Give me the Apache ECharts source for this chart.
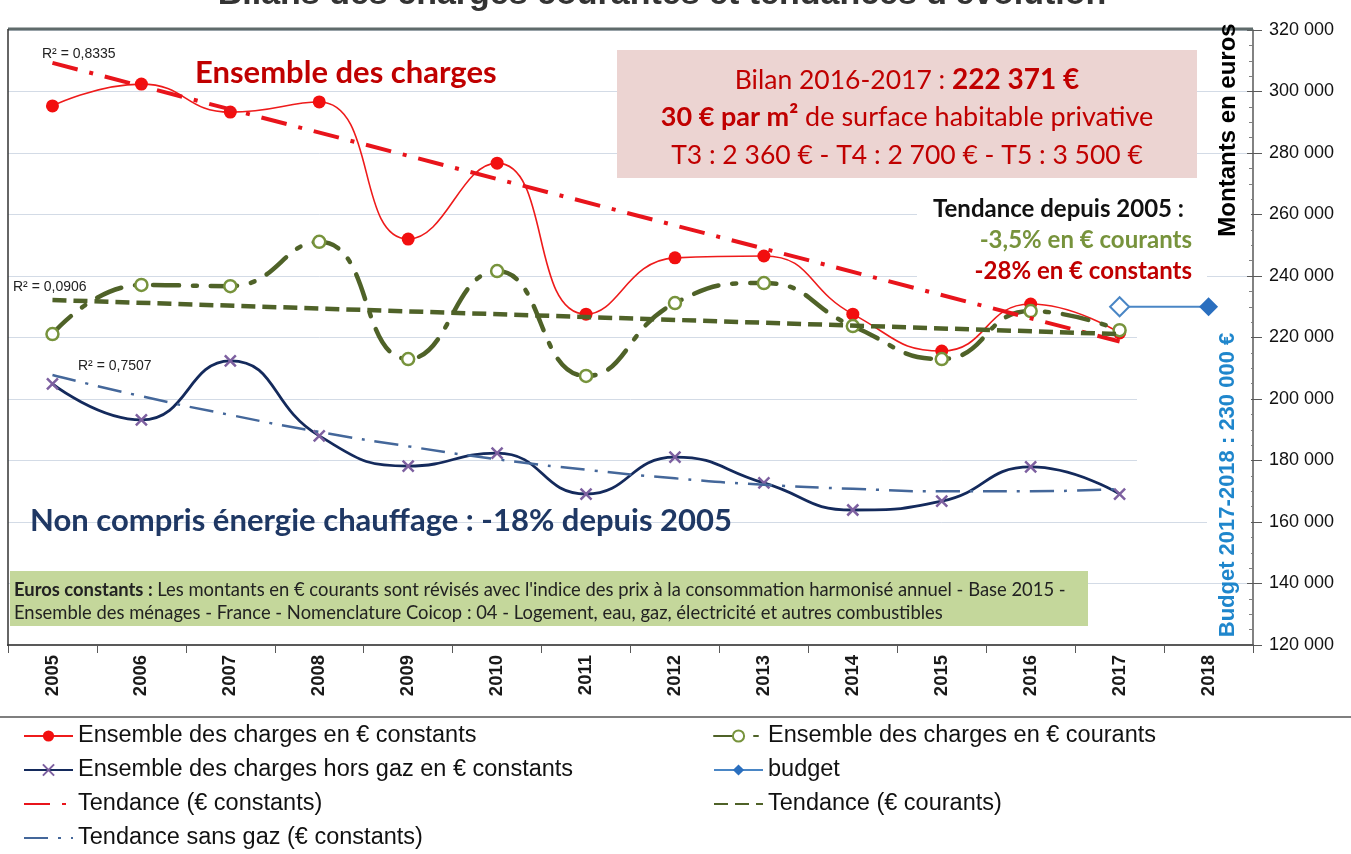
<!DOCTYPE html>
<html><head><meta charset="utf-8">
<script src="https://cdn.jsdelivr.net/npm/echarts@6/dist/echarts.min.js"></script>
<style>html,body{margin:0;padding:0;background:#fff}#c{width:1351px;height:854px}</style>
</head><body><div id="c"></div>
<script>
// ---- data ----
const years = ['2005','2006','2007','2008','2009','2010','2011','2012','2013','2014','2015','2016','2017','2018'];
const constants = [295300, 302400, 293300, 296600, 252000, 276700, 227600, 245900, 246500, 227600, 215600, 230900, 221500, null];
const courants = [221100, 237100, 236700, 251100, 213000, 241600, 207500, 231200, 237700, 223700, 213000, 228600, 222371, null];
const horsGaz = [204900, 193200, 212400, 188000, 178200, 182400, 169100, 181100, 172700, 163900, 166800, 177900, 169100, null];
const budget = [null, null, null, null, null, null, null, null, null, null, null, null, 230000, 230000];
const trendConstants = [309300, null, null, null, null, null, null, null, null, null, null, null, 218700, null];
const trendCourants = [232200, null, null, null, null, null, null, null, null, null, null, null, 221100, null];
const trendSansGaz = [207800, 200900, 194800, 189300, 184600, 180400, 177000, 174200, 172100, 170800, 170000, 170000, 170800, null];
const yMin = 120000, yMax = 320000, yStep = 20000;

const names = {
  c: 'Ensemble des charges en € constants',
  k: 'Ensemble des charges en € courants',
  h: 'Ensemble des charges hors gaz en € constants',
  b: 'budget',
  tc: 'Tendance (€ constants)',
  tk: 'Tendance (€ courants)',
  th: 'Tendance sans gaz (€ constants)'
};

const fmt = v => String(v).replace(/\B(?=(\d{3})+(?!\d))/g, ' ');
const ARIAL = 'Liberation Sans, Arial, sans-serif';
const CAL = 'Lato, Carlito, sans-serif';

function txt(text, x, y, font, fill, align, valign, extra) {
  return Object.assign({
    type: 'text', x: x, y: y, z: 20,
    style: { text: text, font: font, fill: fill, align: align || 'left', verticalAlign: valign || 'middle',
             textAlign: align || 'left', textVerticalAlign: valign || 'middle' }
  }, extra || {});
}

const budgetData = budget.map((v, i) => (i === 12 && v != null)
  ? { value: v, itemStyle: { color: '#ffffff', borderColor: '#4a86c5', borderWidth: 2 } } : v);

// legend placement: [name, left, rowCenterY, hideSymbol]
const legendSlots = [
  [names.c, 23, 737, false], [names.k, 713, 737, false],
  [names.h, 23, 771, false], [names.b, 713, 771, false],
  [names.tc, 23, 805, true], [names.tk, 713, 805, true],
  [names.th, 23, 839, true]
];
const legends = legendSlots.map(s => ({
  left: s[1], top: s[2] - 13, padding: 0, itemWidth: 49, itemHeight: 14, orient: 'horizontal',
  textStyle: { fontFamily: ARIAL, fontSize: 23.5, color: '#111' },
  data: [s[3] ? { name: s[0], itemStyle: { opacity: 0 } } : { name: s[0] }]
}));

const chart = echarts.init(document.getElementById('c'), null, { renderer: 'canvas' });
chart.setOption({
  animation: false,
  backgroundColor: '#ffffff',
  grid: { left: 8, right: 98, top: 30, bottom: 209, containLabel: false },
  xAxis: {
    type: 'category', data: years, boundaryGap: true,
    axisLine: { lineStyle: { color: '#595959', width: 2 } },
    axisTick: { show: true, interval: 0, length: 8, lineStyle: { color: '#595959', width: 1 } },
    axisLabel: { rotate: 90, interval: 0, margin: 10, color: '#1a1a1a', fontSize: 18.5, fontWeight: 'bold', fontFamily: ARIAL },
    splitLine: { show: false }
  },
  yAxis: [{
    type: 'value', position: 'right', min: yMin, max: yMax, interval: yStep,
    axisLine: { show: true, lineStyle: { color: '#595959', width: 1.5 } },
    axisTick: { show: true, length: 9, lineStyle: { color: '#595959' } },
    minorTick: { show: false },
    axisLabel: { margin: 16, color: '#111', fontSize: 18, fontFamily: ARIAL, formatter: fmt },
    splitLine: { show: true, lineStyle: { color: '#d3dbe6', width: 1 } }
  }, {
    type: 'value', position: 'right', min: yMin, max: yMax, interval: yStep,
    axisLine: { show: false },
    axisTick: { show: true, inside: true, length: 6, lineStyle: { color: '#595959' } },
    minorTick: { show: true, splitNumber: 4, length: 4, lineStyle: { color: '#7f7f7f' } },
    axisLabel: { show: false }, splitLine: { show: false }
  }],
  legend: legends,
  series: [
    {
      name: names.c, type: 'line', data: constants, smooth: 0.5, z: 3,
      symbol: 'circle', symbolSize: 13,
      lineStyle: { color: '#ee1b1b', width: 1.6 },
      itemStyle: { color: '#f20f0f' }
    },
    {
      name: names.k, type: 'line', data: courants, smooth: 0.5, z: 4,
      symbol: 'circle', symbolSize: 12,
      lineStyle: { color: '#4f6228', width: 4.5, type: [26, 14, 4, 14], cap: 'round' },
      itemStyle: { color: '#ffffff', borderColor: '#77933c', borderWidth: 2.5 }
    },
    {
      name: names.h, type: 'line', data: horsGaz, smooth: 0.5, z: 3,
      symbol: 'path://M0,0L10,10M10,0L0,10', symbolSize: 11,
      lineStyle: { color: '#142a5c', width: 2.8 },
      itemStyle: { color: 'rgba(0,0,0,0)', borderColor: '#7d60a0', borderWidth: 2.5 }
    },
    {
      name: names.b, type: 'line', data: budgetData, z: 4,
      symbol: 'diamond', symbolSize: 19,
      lineStyle: { color: '#4a86c5', width: 2 },
      itemStyle: { color: '#2a6fbf' }
    },
    {
      name: names.tc, type: 'line', data: trendConstants, connectNulls: true, z: 5,
      symbol: 'none',
      lineStyle: { color: '#e8141b', width: 4, type: [26, 12, 4, 12] },
      itemStyle: { color: '#e8141b' }
    },
    {
      name: names.tk, type: 'line', data: trendCourants, connectNulls: true, z: 5,
      symbol: 'none',
      lineStyle: { color: '#4f6228', width: 4.5, type: [14, 7] },
      itemStyle: { color: '#4f6228' }
    },
    {
      name: names.th, type: 'line', data: trendSansGaz, smooth: 0.6, z: 5,
      symbol: 'none',
      lineStyle: { color: '#44679a', width: 2.5, type: [24, 10, 3, 10] },
      itemStyle: { color: '#44679a' }
    }
  ],
  graphic: { elements: [
    // clipped title at top
    txt("Bilans des charges courantes et tendances d'évolution", 662, 12, 'bold 34px ' + ARIAL, '#333', 'center', 'bottom'),
    // plot borders
    { type: 'line', z: 6, shape: { x1: 8, y1: 29, x2: 1253, y2: 29 }, style: { stroke: '#5f6b6b', lineWidth: 3 } },
    { type: 'line', z: 6, shape: { x1: 8, y1: 29, x2: 8, y2: 646 }, style: { stroke: '#333', lineWidth: 1.5 } },
    { type: 'line', z: 6, shape: { x1: 0, y1: 717, x2: 1351, y2: 717 }, style: { stroke: '#7f7f7f', lineWidth: 2 } },
    // white text-box backgrounds hiding grid lines
    { type: 'rect', z: 1, shape: { x: 917, y: 193, width: 290, height: 94 }, style: { fill: '#ffffff' } },
    { type: 'rect', z: 1, shape: { x: 1137, y: 318, width: 114, height: 185 }, style: { fill: '#ffffff' } },
    { type: 'rect', z: 1, shape: { x: 1207, y: 500, width: 44, height: 60 }, style: { fill: '#ffffff' } },
    { type: 'rect', z: 1, shape: { x: 1205, y: 190, width: 46, height: 60 }, style: { fill: '#ffffff' } },
    // pink box
    { type: 'rect', z: 1, shape: { x: 617, y: 50, width: 580, height: 128 }, style: { fill: '#ecd4d2' } },
    {
      type: 'text', x: 907, y: 80, z: 20,
      style: { text: '{r|Bilan 2016-2017 : }{b|222 371 €}', align: 'center', verticalAlign: 'middle', textAlign: 'center', textVerticalAlign: 'middle',
        rich: { r: { font: '26.5px ' + CAL, fill: '#c00000', color: '#c00000' }, b: { font: 'bold 28px ' + CAL, fill: '#c00000', color: '#c00000' } } }
    },
    {
      type: 'text', x: 907, y: 117, z: 20,
      style: { text: '{b|30 € par m²}{r| de surface habitable privative}', align: 'center', verticalAlign: 'middle', textAlign: 'center', textVerticalAlign: 'middle',
        rich: { r: { font: '27px ' + CAL, fill: '#c00000', color: '#c00000' }, b: { font: 'bold 27px ' + CAL, fill: '#c00000', color: '#c00000' } } }
    },
    txt('T3 : 2 360 € - T4 : 2 700 € - T5 : 3 500 €', 907, 155, '26.5px ' + CAL, '#c00000', 'center', 'middle'),
    // trend summary
    txt('Tendance depuis 2005 :', 1184, 209, 'bold 24px ' + CAL, '#111', 'right', 'middle'),
    txt('-3,5% en € courants', 1192, 240, 'bold 24px ' + CAL, '#77933c', 'right', 'middle'),
    txt('-28% en € constants', 1192, 271, 'bold 24px ' + CAL, '#c00000', 'right', 'middle'),
    // series captions
    txt('Ensemble des charges', 195, 73, 'bold 31px ' + CAL, '#c00000', 'left', 'middle'),
    txt('Non compris énergie chauffage : -18% depuis 2005', 30, 521, 'bold 31px ' + CAL, '#1f3864', 'left', 'middle'),
    // R² labels
    txt('R² = 0,8335', 42, 54, '14px ' + ARIAL, '#222', 'left', 'middle'),
    txt('R² = 0,0906', 13, 287, '14px ' + ARIAL, '#222', 'left', 'middle'),
    txt('R² = 0,7507', 78, 366, '14px ' + ARIAL, '#222', 'left', 'middle'),
    // green note box
    { type: 'rect', z: 1, shape: { x: 10, y: 571, width: 1078, height: 55 }, style: { fill: '#c4d79b' } },
    {
      type: 'text', x: 14, y: 590, z: 20,
      style: { text: "{b|Euros constants :}{r| Les montants en € courants sont révisés avec l'indice des prix à la consommation harmonisé annuel - Base 2015 -}",
        align: 'left', verticalAlign: 'middle', textAlign: 'left', textVerticalAlign: 'middle',
        rich: { r: { font: '18.4px ' + CAL, fill: '#222', color: '#222' }, b: { font: 'bold 18.4px ' + CAL, fill: '#222', color: '#222' } } }
    },
    txt('Ensemble des ménages - France - Nomenclature Coicop : 04 - Logement, eau, gaz, électricité et autres combustibles', 14, 613, '18.4px ' + CAL, '#222', 'left', 'middle'),
    // rotated axis texts
    txt('Montants en euros', 1228, 130, 'bold 24px ' + ARIAL, '#000', 'center', 'middle', { rotation: Math.PI / 2 }),
    txt('Budget 2017-2018 : 230 000 €', 1228, 485, 'bold 22px ' + ARIAL, '#1f86cc', 'center', 'middle', { rotation: Math.PI / 2 })
  ] }
});
</script>
</body></html>
